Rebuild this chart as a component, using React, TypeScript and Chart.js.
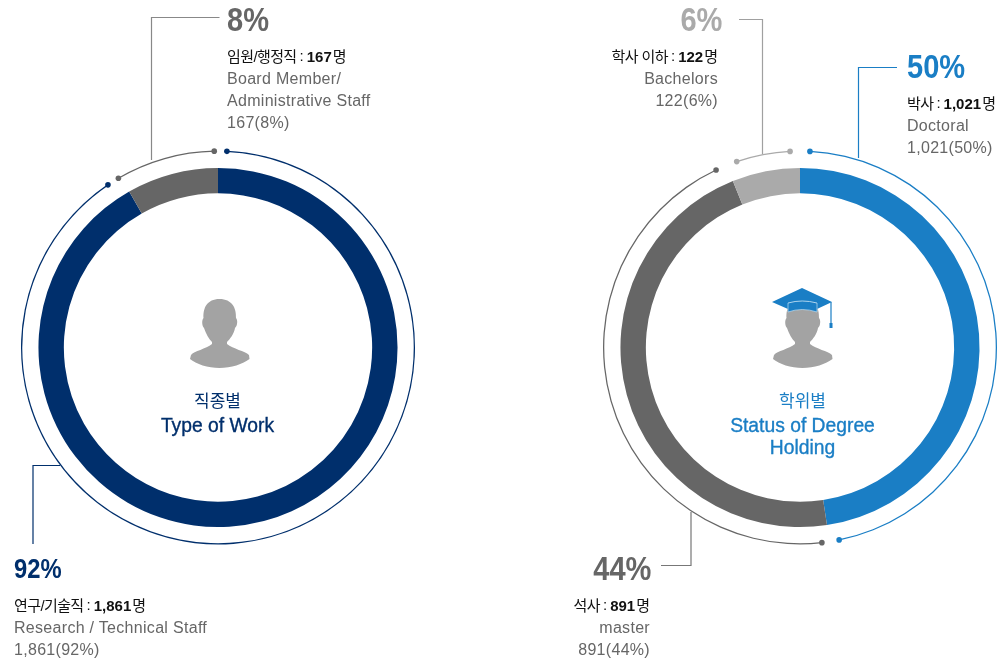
import React, { useEffect, useRef } from "react";
import { Chart, registerables } from "chart.js";

Chart.register(...registerables);

const NAVY = "#002f6c";
const BLUE = "#1a7ec5";
const GRAY = "#666666";
const LIGHT = "#aaaaaa";
const CLEAR = "rgba(0,0,0,0)";

const workCategories = ["Research / Technical Staff", "Board Member / Administrative Staff"];
const workValues = [1861, 167];
const workColors = [NAVY, GRAY];
const workRing = [2.6, 323.5, 3.6, 29.4, 1.1];
const workRingColors = [CLEAR, NAVY, CLEAR, GRAY, CLEAR];

const degreeCategories = ["Doctoral", "master", "Bachelors"];
const degreeShares = [47.6, 46.3, 6.1];
const degreeColors = [BLUE, GRAY, LIGHT];
const degreeRing = [2.9, 165.6, 5.1, 161.1, 6.5, 15.9, 2.9];
const degreeRingColors = [CLEAR, BLUE, CLEAR, GRAY, CLEAR, LIGHT, CLEAR];

const ringDots = {
  id: "ringDots",
  afterDatasetsDraw(chart: any) {
    const meta = chart.getDatasetMeta(0);
    const colors = chart.data.datasets[0].backgroundColor;
    const { ctx } = chart;
    meta.data.forEach((arc: any, i: number) => {
      if (colors[i] === CLEAR) return;
      const { x, y, startAngle, endAngle, outerRadius, innerRadius } = arc.getProps(
        ["x", "y", "startAngle", "endAngle", "outerRadius", "innerRadius"],
        true
      );
      const r = (outerRadius + innerRadius) / 2;
      [startAngle, endAngle].forEach((a: number) => {
        ctx.beginPath();
        ctx.arc(x + r * Math.cos(a), y + r * Math.sin(a), 2.8, 0, Math.PI * 2);
        ctx.fillStyle = colors[i];
        ctx.fill();
      });
    });
  },
};

function Donut(props: {
  left: number;
  labels: string[];
  values: number[];
  colors: string[];
  ring: number[];
  ringColors: string[];
}) {
  const ref = useRef<HTMLCanvasElement>(null);
  useEffect(() => {
    const chart = new Chart(ref.current as HTMLCanvasElement, {
      type: "doughnut",
      data: {
        labels: props.labels,
        datasets: [
          { data: props.ring, backgroundColor: props.ringColors, borderWidth: 0, hoverOffset: 0, weight: 1.2 },
          { data: [1], backgroundColor: [CLEAR], borderWidth: 0, hoverOffset: 0, weight: 15.3 },
          { data: props.values, backgroundColor: props.colors, borderWidth: 0, hoverOffset: 0, weight: 24 },
        ],
      } as any,
      options: {
        responsive: false,
        animation: false,
        radius: 197,
        cutout: 156.5,
        hoverOffset: 0,
        plugins: { legend: { display: false }, tooltip: { enabled: false } },
      } as any,
      plugins: [ringDots],
    });
    return () => chart.destroy();
  }, []);
  return (
    <canvas
      ref={ref}
      width={400}
      height={401}
      style={{ position: "absolute", left: props.left, top: 147, width: 400, height: 401 }}
    />
  );
}

const SANS = '"Liberation Sans", "Noto Sans CJK KR", sans-serif';

function Note(props: {
  x: number;
  top: number;
  align: "left" | "right";
  pct: string;
  color: string;
  ko: string;
  count: string;
  en: string[];
  pctSize?: number;
  pctScale?: number;
  inset?: number;
}) {
  const pos: any = props.align === "left" ? { left: props.x } : { right: 1004 - props.x };
  const inset = props.inset || 0;
  const lineStyle: any = { paddingRight: inset };
  return (
    <div style={{ position: "absolute", top: props.top, textAlign: props.align, whiteSpace: "nowrap", ...pos }}>
      <div
        style={{
          font: `bold ${props.pctSize || 33}px/36px ${SANS}`,
          color: props.color,
          marginBottom: 7.5,
          transform: `scaleX(${props.pctScale || 0.88})`,
          transformOrigin: props.align,
        }}
      >
        {props.pct}
      </div>
      <div style={{ font: `15px/22.3px ${SANS}`, color: "#111", ...lineStyle }}>
        <span style={{ letterSpacing: -0.6 }}>{props.ko}</span>
        <span style={{ margin: "0 3px 0 3px", position: "relative", top: -1 }}>:</span>
        <span style={{ fontWeight: 700, fontSize: 15, marginRight: 1 }}>{props.count}</span>명
      </div>
      {props.en.map((t) => (
        <div key={t} style={{ font: `16px/22.3px ${SANS}`, letterSpacing: 0.3, color: "#666", ...lineStyle }}>
          {t}
        </div>
      ))}
    </div>
  );
}

const PERSON =
  "M219.5 299C207 299 203 308 203.5 318C201.5 320 202 326 204 328C206 334 209 339 212 342L212 344C206 349 194 351 191 355L190 359C196 364 208 368 219.5 368C231 368 243 364 249.5 359L249 355C245 351 233 349 227 344L227 342C230 339 234 334 235 328C237.5 326 238 320 236 318C236.5 308 232 299 219.5 299Z";

function Title(props: { x: number; color: string; ko: string; en: string[] }) {
  return (
    <div
      style={{
        position: "absolute",
        left: props.x - 100,
        width: 200,
        top: 391,
        textAlign: "center",
        color: props.color,
      }}
    >
      <div style={{ font: `17px/22px ${SANS}` }}>{props.ko}</div>
      {props.en.map((t) => (
        <div
          key={t}
          style={{ font: `19.3px/21.5px ${SANS}`, WebkitTextStroke: "0.35px currentColor", marginTop: t === props.en[0] ? 2 : 0 } as any}
        >
          {t}
        </div>
      ))}
    </div>
  );
}

export default function App() {
  return (
    <div style={{ position: "absolute", left: 0, top: 0, width: 1004, height: 663, overflow: "hidden", background: "#fff" }}>
      <Donut left={18} labels={workCategories} values={workValues} colors={workColors} ring={workRing} ringColors={workRingColors} />
      <Donut left={600} labels={degreeCategories} values={degreeShares} colors={degreeColors} ring={degreeRing} ringColors={degreeRingColors} />

      <svg width={1004} height={663} style={{ position: "absolute", left: 0, top: 0 }}>
        <g fill="none" strokeWidth={1.2}>
          <path d="M219.5 17.5H151.5V160" stroke="#888" />
          <path d="M739 19.5H762.5V154" stroke="#a0a0a0" />
          <path d="M897 67.5H858.5V158" stroke={BLUE} />
          <path d="M60 465.5H33V544" stroke={NAVY} />
          <path d="M661 565.5H691V512" stroke="#777" />
        </g>
        <path d={PERSON} fill="#a3a3a3" />
        <g transform="translate(583 0)">
          <path d={PERSON} fill="#a3a3a3" />
        </g>
        <path d="M772 302L802 288L832 302L817 309V312Q802 307 788 312V309Z" fill={BLUE} />
        <path d="M788 303Q802 299 817 303" fill="none" stroke="#bcdcf2" strokeWidth={0.9} />
        <path d="M788 303V312Q802 307 817 312V303" fill="none" stroke="#bcdcf2" strokeWidth={0.7} />
        <path d="M831 302V324" stroke={BLUE} strokeWidth={1.2} />
        <rect x={829.5} y={323} width={3} height={5} fill={BLUE} />
      </svg>

      <Note x={227} top={2} align="left" pct="8%" color={GRAY} ko="임원/행정직" count="167" en={["Board Member/", "Administrative Staff", "167(8%)"]} />
      <Note x={722} top={2} align="right" pct="6%" color={LIGHT} ko="학사 이하" count="122" en={["Bachelors", "122(6%)"]} inset={4} />
      <Note x={907} top={49} align="left" pct="50%" color={BLUE} ko="박사" count="1,021" en={["Doctoral", "1,021(50%)"]} />
      <Note x={14} top={551} align="left" pct="92%" color={NAVY} ko="연구/기술직" count="1,861" en={["Research / Technical Staff", "1,861(92%)"]} pctSize={28} pctScale={0.85} />
      <Note x={651} top={551} align="right" pct="44%" color={GRAY} ko="석사" count="891" en={["master", "891(44%)"]} inset={1} />

      <Title x={217.5} color={NAVY} ko="직종별" en={["Type of Work"]} />
      <Title x={802.5} color={BLUE} ko="학위별" en={["Status of Degree", "Holding"]} />
    </div>
  );
}
